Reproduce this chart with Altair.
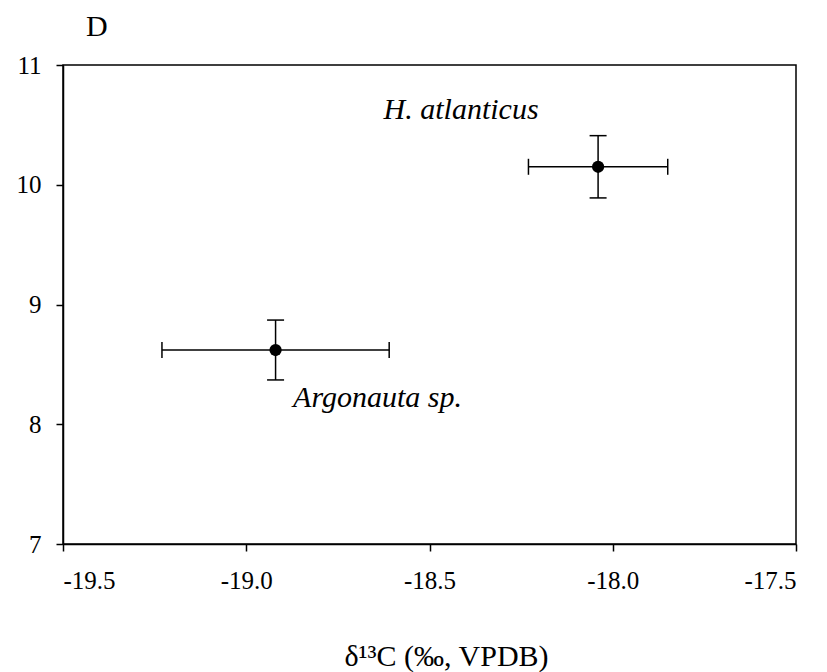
import altair as alt
import pandas as pd

# ---- data ----
species = ["Argonauta sp.", "H. atlanticus"]
d13c_mean = [-18.92, -18.04]
d13c_sd = [0.31, 0.19]
d15n_mean = [8.62, 10.15]
d15n_sd = [0.25, 0.26]

x_ticks = [-19.5, -19.0, -18.5, -18.0, -17.5]
y_ticks = [7, 8, 9, 10, 11]
x_title = "δ¹³C (‰, VPDB)"
panel_label = "D"

df = pd.DataFrame({
    "species": species,
    "x": d13c_mean,
    "xsd": d13c_sd,
    "y": d15n_mean,
    "ysd": d15n_sd,
})

FONT = "Liberation Serif"
LW = 1.5

xscale = alt.Scale(domain=[x_ticks[0], x_ticks[-1]], nice=False, zero=False)
yscale = alt.Scale(domain=[y_ticks[0], y_ticks[-1]], nice=False, zero=False)

xaxis = alt.Axis(
    values=x_ticks, title=x_title, grid=False,
    labelExpr="(datum.value < 0 ? '-' : '') + format(abs(datum.value), '.1f')",
    labelFont=FONT, labelFontSize=25, labelColor="black",
    tickSize=7, labelPadding=37, labelBaseline="alphabetic",
    titleFont=FONT, titleFontSize=30, titleFontWeight="normal", titleColor="black",
    titleX=383, titleY=121, titleBaseline="alphabetic", titleAlign="center",
    domainColor="black", domainWidth=LW, tickColor="black", tickWidth=LW,
)
yaxis = alt.Axis(
    values=y_ticks, format="d", title="", grid=False,
    labelFont=FONT, labelFontSize=25, labelColor="black",
    tickSize=7, labelPadding=15,
    domainColor="black", domainWidth=LW, tickColor="black", tickWidth=LW,
)


def X(field):
    return alt.X(field, type="quantitative", scale=xscale, axis=xaxis)


def Y(field):
    return alt.Y(field, type="quantitative", scale=yscale, axis=yaxis)


base = alt.Chart(df).transform_calculate(
    xlo="datum.x - datum.xsd",
    xhi="datum.x + datum.xsd",
    ylo="datum.y - datum.ysd",
    yhi="datum.y + datum.ysd",
)

hbar = base.mark_rule(color="black", strokeWidth=LW).encode(
    x=X("xlo"), x2="xhi:Q", y=Y("y"))
vbar = base.mark_rule(color="black", strokeWidth=LW).encode(
    x=X("x"), y=Y("ylo"), y2="yhi:Q")

hcaps = base.transform_fold(["xlo", "xhi"], as_=["end", "xe"]).mark_tick(
    orient="vertical", color="black", size=16, thickness=LW, opacity=1
).encode(x=X("xe"), y=Y("y"))

vcaps = base.transform_fold(["ylo", "yhi"], as_=["end", "ye"]).mark_tick(
    orient="horizontal", color="black", size=17, thickness=LW, opacity=1
).encode(x=X("x"), y=Y("ye"))

pts = base.mark_circle(color="black", size=150, opacity=1).encode(
    x=X("x"), y=Y("y"))

lab_arg = base.transform_filter(alt.datum.species == species[0]).mark_text(
    font=FONT, fontStyle="italic", fontSize=30, color="black",
    align="center", baseline="alphabetic", dx=102, dy=57,
).encode(x=X("x"), y=Y("y"), text="species:N")

lab_hat = base.transform_filter(alt.datum.species == species[1]).mark_text(
    font=FONT, fontStyle="italic", fontSize=30, color="black",
    align="center", baseline="alphabetic", dx=-137, dy=-48,
).encode(x=X("x"), y=Y("y"), text="species:N")

chart = alt.layer(hbar, vbar, hcaps, vcaps, pts, lab_arg, lab_hat).properties(
    width=733,
    height=479,
    autosize=alt.AutoSizeParams(type="none"),
    padding={"left": 63, "top": 65, "right": 31, "bottom": 128},
    title=alt.TitleParams(
        text=panel_label, anchor="start", frame="group", dx=23, dy=30,
        font=FONT, fontSize=30, fontWeight="normal", color="black",
        baseline="alphabetic", offset=17,
    ),
).configure_view(
    stroke="black", strokeWidth=LW
)

chart.save("out.html", embed_options={"renderer": "svg", "actions": False})
